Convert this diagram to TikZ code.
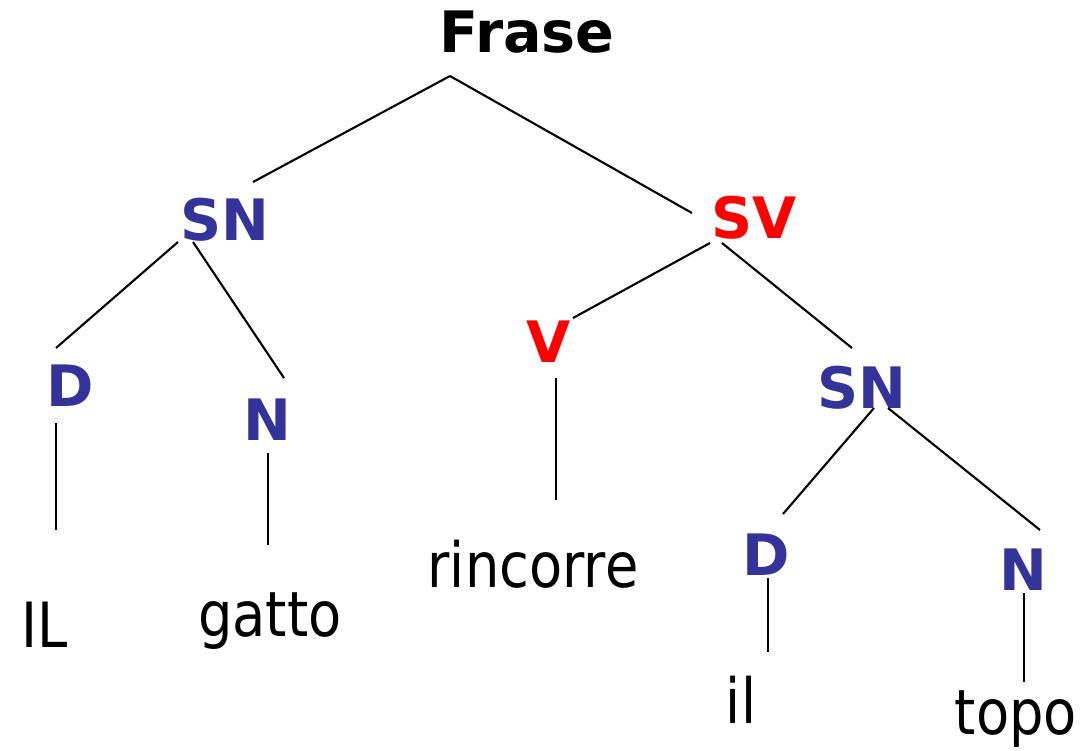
\documentclass[tikz,border=0pt]{standalone}
\usepackage{fontspec}
\setmainfont{DejaVu Sans}
\newfontfamily\wordfamily[FakeStretch=0.87]{DejaVu Sans}
\usetikzlibrary{calc}
\definecolor{catblue}{HTML}{333399}
\newcommand\catfont{\fontsize{32.5}{38}\selectfont\bfseries}
\newcommand\wordfont{\fontsize{35.5}{42}\selectfont\wordfamily}
\tikzset{
  cat/.style={font=\catfont, text=catblue, inner sep=0pt, anchor=base},
  head/.style={cat, text=black},
  verb/.style={cat, text=red},
  word/.style={font=\wordfont, inner sep=0pt, anchor=base},
  branch/.style={line width=1.2pt}
}
\begin{document}
\begin{tikzpicture}[x=0.02cm, y=-0.02cm]
\useasboundingbox (0,0) rectangle (1086,751);
% categories
\node[head] (frase) at (527,52) {Frase};
\node[cat] (snL) at (225,240) {SN};
\node[verb] (sv) at (754,238) {SV};
\node[cat] (dL) at (70,406) {D};
\node[cat] (nL) at (267,440) {N};
\node[verb] (v) at (549,362) {V};
\node[cat] (snR) at (862,408) {SN};
\node[cat] (dR) at (766,575) {D};
\node[cat] (nR) at (1023,590) {N};
% words
\node[word] (IL) at (45,647) {IL};
\node[word] (gatto) at (270,636) {gatto};
\node[word] (rincorre) at (533,587) {rincorre};
\node[word] (il) at (741,723) {il};
\node[word] (topo) at (1016,734) {topo};
% branches
\foreach \a/\da/\b/\db in {frase/{-77,24}/snL/{28,-58}, frase/{-77,24}/sv/{-62,-25},
    snL/{-47,2}/dL/{-14,-58}, snL/{-32,2}/nL/{17,-62},
    sv/{-44,5}/v/{24,-44}, sv/{-32,5}/snR/{-10,-60},
    dL/{-14,17}/IL/{11,-117}, nL/{1,13}/gatto/{-2,-91}, v/{7,16}/rincorre/{23,-87},
    snR/{12,0}/dR/{17,-61}, snR/{26,0}/nR/{17,-60},
    dR/{2,3}/il/{27,-71}, nR/{1,3}/topo/{8,-52}}{
    \draw[branch] ($(\a.base)+(\da)$) -- ($(\b.base)+(\db)$);
}
\end{tikzpicture}
\end{document}
